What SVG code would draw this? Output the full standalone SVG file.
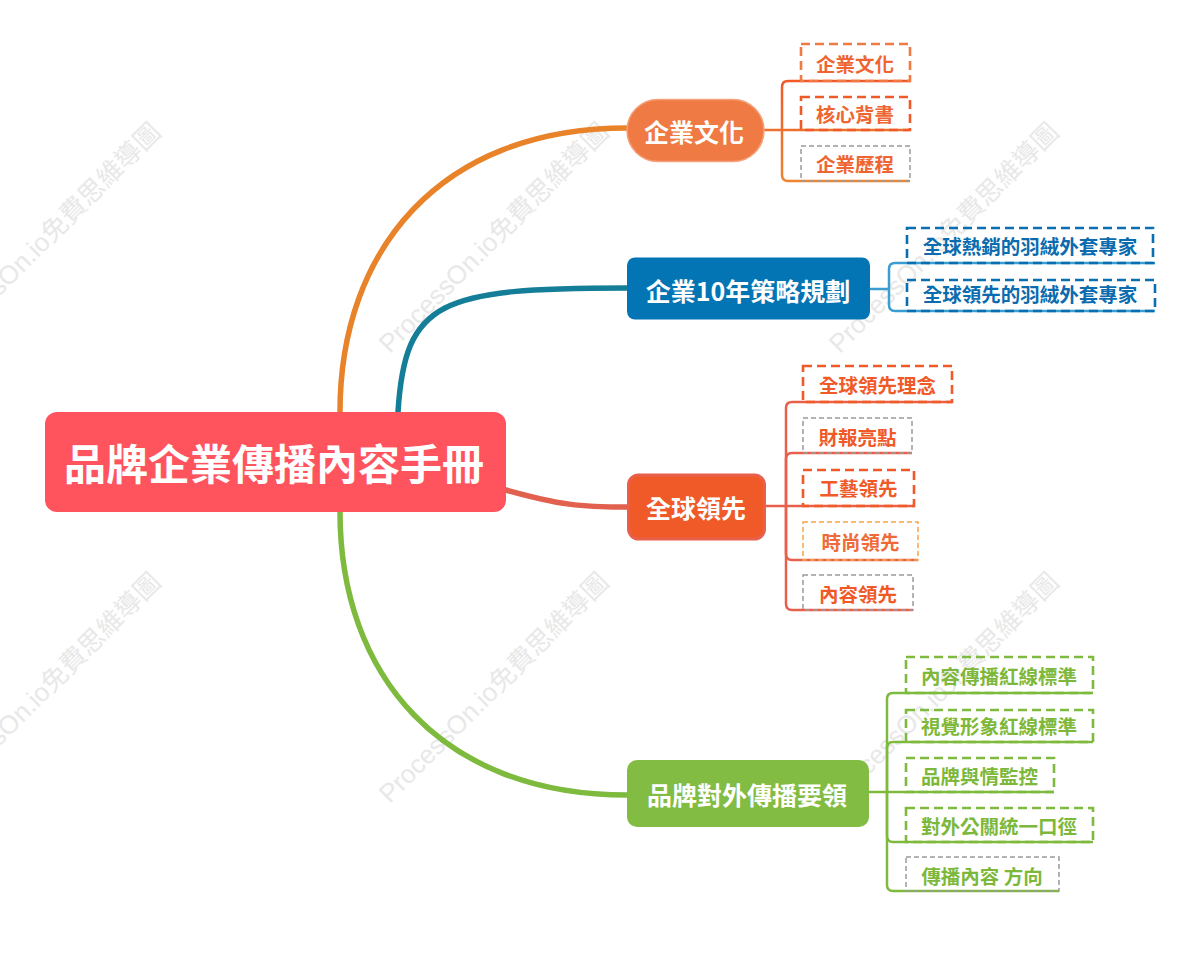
<svg xmlns="http://www.w3.org/2000/svg" width="1200" height="954" viewBox="0 0 1200 954">
<defs>
<style>
.wm{font-family:"Liberation Sans","Noto Sans CJK TC",sans-serif;font-size:26px;fill:#e8e8e8;text-anchor:middle}
.nt{font-family:"Noto Sans CJK TC","Noto Sans",sans-serif;font-weight:700;fill:#fff;text-anchor:middle}
.ct{font-family:"Noto Sans CJK TC","Noto Sans",sans-serif;font-weight:700;font-size:19.5px;text-anchor:middle}
.main{fill:none;stroke-width:5.5;stroke-linecap:round}
.br{fill:none;stroke-width:2.5}
.dk{fill:none;stroke-width:2.6;stroke-dasharray:9 5}
.dg{fill:none;stroke:#9a9a9a;stroke-width:1.5;stroke-dasharray:5 3}
.dl{fill:none;stroke:#F8A44A;stroke-width:1.5;stroke-dasharray:5 3}
</style>
<linearGradient id="g1" gradientUnits="userSpaceOnUse" x1="0" y1="81" x2="0" y2="181">
<stop offset="0" stop-color="#F05A28"/><stop offset="1" stop-color="#EC8632"/>
</linearGradient>
</defs>
<rect width="1200" height="954" fill="#fff"/>
<g id="watermarks">
<text class="wm" transform="translate(52,244) rotate(-45)">ProcessOn.io免費思維導圖</text>
<text class="wm" transform="translate(500,244) rotate(-45)">ProcessOn.io免費思維導圖</text>
<text class="wm" transform="translate(950,244) rotate(-45)">ProcessOn.io免費思維導圖</text>
<text class="wm" transform="translate(52,694) rotate(-45)">ProcessOn.io免費思維導圖</text>
<text class="wm" transform="translate(500,694) rotate(-45)">ProcessOn.io免費思維導圖</text>
<text class="wm" transform="translate(950,694) rotate(-45)">ProcessOn.io免費思維導圖</text>
</g>
<g id="connectors">
<path class="main" stroke="#E8832A" d="M340,430 L340,412 C340,250 440,128 627,128"/>
<path class="main" stroke="#147E98" d="M398,430 L398,412 C405,300 440,288 627,288"/>
<path class="main" stroke="#E2604E" stroke-width="4.5" d="M490,488 L506,490 C560,505 580,507 627,507"/>
<path class="main" stroke="#7DBA3E" d="M340,495 L340,512 C340,674 440,795 627,795"/>
<g stroke="url(#g1)" class="br">
<path d="M763,130 H910"/>
<path d="M782,130 V87 Q782,81 788,81 H910"/>
<path d="M782,130 V175 Q782,181 788,181 H910"/>
</g>
<g stroke="#3A9FD0" class="br">
<path d="M870,289 H889"/>
<path d="M889,289 V269 Q889,263 895,263 H1155"/>
<path d="M889,289 V305 Q889,311 895,311 H1155"/>
</g>
<g stroke="#E8604C" class="br">
<path d="M766,506 H914"/>
<path d="M786,506 V408 Q786,402 792,402 H952"/>
<path d="M786,506 V459 Q786,453 792,453 H912"/>
<path d="M786,506 V554 Q786,560 792,560 H918"/>
<path d="M786,506 V604 Q786,610 792,610 H913"/>
</g>
<g stroke="#7DBA3E" class="br">
<path d="M869,792 H1054"/>
<path d="M887,792 V699 Q887,693 893,693 H1093"/>
<path d="M887,792 V748 Q887,742 893,742 H1093"/>
<path d="M887,792 V836 Q887,842 893,842 H1093"/>
<path d="M887,792 V885 Q887,891 893,891 H1059"/>
</g>
</g>
<g id="root">
<rect x="45" y="412" width="461" height="100" rx="12" fill="#FF545E"/>
<text class="nt" x="274" y="480" font-size="42">品牌企業傳播內容手冊</text>
</g>
<g id="n1">
<rect x="627" y="99.5" width="137" height="62" rx="31" fill="#EF7A44" stroke="#F4A27C" stroke-width="1.5"/>
<text class="nt" x="694" y="142" font-size="25">企業文化</text>
</g>
<g id="n1c1"><rect class="dk" stroke="#F07A45" x="801" y="44" width="109" height="37"/><text class="ct" fill="#EF6532" x="855" y="72">企業文化</text></g>
<g id="n1c2"><rect class="dk" stroke="#F05A28" x="801" y="97" width="109" height="33"/><text class="ct" fill="#EF6532" x="855" y="122">核心背書</text></g>
<g id="n1c3"><rect class="dg" x="801" y="146" width="109" height="35"/><text class="ct" fill="#EF6532" x="855" y="172">企業歷程</text></g>
<g id="n2">
<rect x="627" y="257.5" width="243" height="62" rx="8" fill="#0374B4"/>
<text class="nt" x="748" y="301" font-size="25">企業10年策略規劃</text>
</g>
<g id="n2c1"><rect class="dk" stroke="#0A6FB0" x="907" y="228" width="246" height="35"/><text class="ct" fill="#0A6BAE" x="1030" y="254">全球熱銷的羽絨外套專家</text></g>
<g id="n2c2"><rect class="dk" stroke="#0A6FB0" x="907" y="280" width="248" height="31"/><text class="ct" fill="#0A6BAE" x="1030" y="302">全球領先的羽絨外套專家</text></g>
<g id="n3">
<rect x="628.5" y="475" width="136" height="64" rx="10" fill="#F05A28" stroke="#E8604C" stroke-width="3"/>
<text class="nt" x="696" y="518" font-size="25">全球領先</text>
</g>
<g id="n3c1"><rect class="dk" stroke="#F05A28" x="803" y="366" width="149" height="36"/><text class="ct" fill="#F05A28" x="877.5" y="393">全球領先理念</text></g>
<g id="n3c2"><rect class="dg" x="803" y="418" width="109" height="35"/><text class="ct" fill="#F05A28" x="857.5" y="445">財報亮點</text></g>
<g id="n3c3"><rect class="dk" stroke="#F05A28" x="803" y="470" width="111" height="36"/><text class="ct" fill="#F05A28" x="858.5" y="496">工藝領先</text></g>
<g id="n3c4"><rect class="dl" x="803" y="522" width="115" height="38"/><text class="ct" fill="#EF6A38" x="860.5" y="550">時尚領先</text></g>
<g id="n3c5"><rect class="dg" x="803" y="575" width="110" height="35"/><text class="ct" fill="#F05A28" x="858" y="601.5">內容領先</text></g>
<g id="n4">
<rect x="627" y="760" width="242" height="67" rx="10" fill="#82BC42"/>
<text class="nt" x="747" y="805" font-size="25">品牌對外傳播要領</text>
</g>
<g id="n4c1"><rect class="dk" stroke="#7DBA3E" x="906" y="657" width="187" height="36"/><text class="ct" fill="#7DB83A" x="999" y="684">內容傳播紅線標準</text></g>
<g id="n4c2"><rect class="dk" stroke="#7DBA3E" x="906" y="710" width="187" height="32"/><text class="ct" fill="#7DB83A" x="999" y="734">視覺形象紅線標準</text></g>
<g id="n4c3"><rect class="dk" stroke="#7DBA3E" x="906" y="758" width="148" height="34"/><text class="ct" fill="#7DB83A" x="979.5" y="784">品牌與情監控</text></g>
<g id="n4c4"><rect class="dk" stroke="#7DBA3E" x="906" y="808" width="187" height="34"/><text class="ct" fill="#7DB83A" x="999" y="834">對外公關統一口徑</text></g>
<g id="n4c5"><rect class="dg" x="906" y="857" width="153" height="34"/><text class="ct" fill="#7DB83A" x="982" y="884">傳播內容 方向</text></g>
</svg>
